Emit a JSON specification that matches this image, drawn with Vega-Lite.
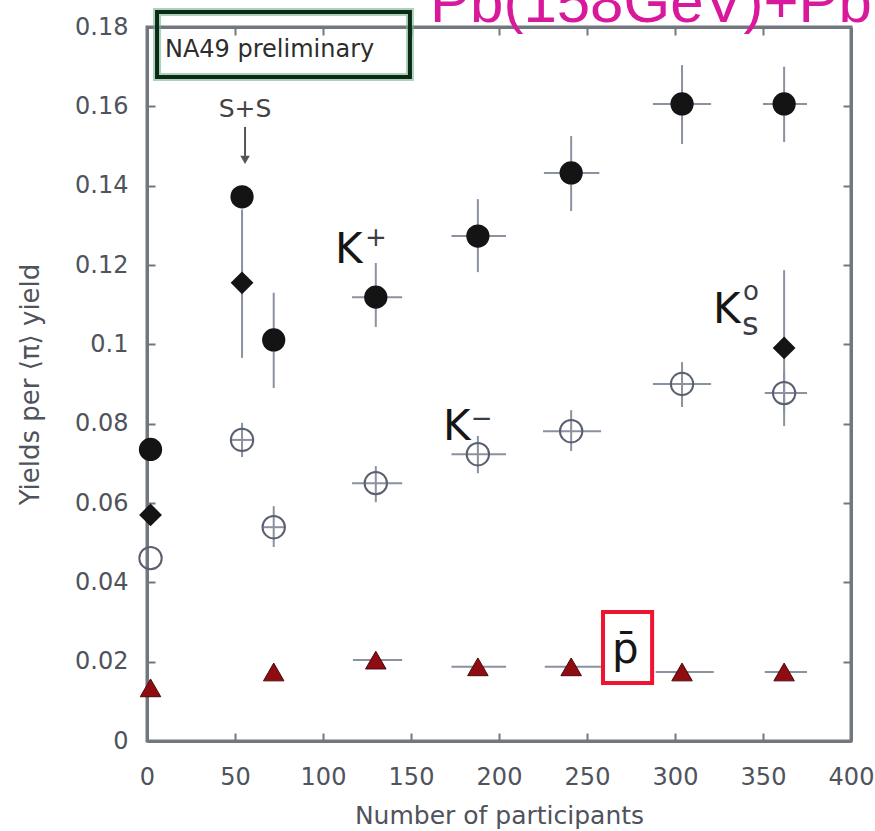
{
  "$schema": "https://vega.github.io/schema/vega-lite/v6.json",
  "width": 704,
  "height": 714,
  "autosize": {"type": "none"},
  "padding": {"left": 147, "top": 27, "right": 24, "bottom": 90},
  "background": "white",
  "config": {
    "view": {"stroke": "#72767f", "strokeWidth": 3},
    "axis": {
      "domainColor": "#72767f",
      "domainWidth": 3,
      "tickColor": "#72767f",
      "tickWidth": 2,
      "tickSize": -8,
      "grid": false,
      "labelFlush": false,
      "labelFont": "DejaVu Sans",
      "labelFontSize": 24,
      "labelColor": "#4f535b",
      "titleFont": "DejaVu Sans",
      "titleFontWeight": "normal",
      "titleColor": "#4f535b"
    }
  },
  "datasets": {
    "points": [
      {"series": "K+", "n": 2, "y": 0.0735, "ylo": null, "yhi": null, "nlo": null, "nhi": null},
      {"series": "K+", "n": 54, "y": 0.1372, "ylo": 0.1345, "yhi": 0.14, "nlo": null, "nhi": null},
      {"series": "K+", "n": 72, "y": 0.1011, "ylo": 0.089, "yhi": 0.113, "nlo": null, "nhi": null},
      {"series": "K+", "n": 130, "y": 0.1119, "ylo": 0.1044, "yhi": 0.1205, "nlo": 116.5, "nhi": 145},
      {"series": "K+", "n": 188, "y": 0.1273, "ylo": 0.1182, "yhi": 0.1366, "nlo": 173, "nhi": 204},
      {"series": "K+", "n": 241, "y": 0.1432, "ylo": 0.1336, "yhi": 0.1525, "nlo": 225.5, "nhi": 257},
      {"series": "K+", "n": 304, "y": 0.1606, "ylo": 0.1505, "yhi": 0.1704, "nlo": 287.5, "nhi": 320.5},
      {"series": "K+", "n": 362, "y": 0.1606, "ylo": 0.151, "yhi": 0.17, "nlo": 350, "nhi": 375},
      {"series": "K0s", "n": 2, "y": 0.057, "ylo": null, "yhi": null, "nlo": null, "nhi": null},
      {"series": "K0s", "n": 54, "y": 0.1155, "ylo": 0.0966, "yhi": 0.134, "nlo": null, "nhi": null},
      {"series": "K0s", "n": 362, "y": 0.0991, "ylo": 0.0794, "yhi": 0.1187, "nlo": null, "nhi": null},
      {"series": "K-", "n": 2, "y": 0.0461, "ylo": null, "yhi": null, "nlo": null, "nhi": null},
      {"series": "K-", "n": 54, "y": 0.0759, "ylo": 0.0716, "yhi": 0.0802, "nlo": 48, "nhi": 60},
      {"series": "K-", "n": 72, "y": 0.0539, "ylo": 0.0489, "yhi": 0.0592, "nlo": 66, "nhi": 78},
      {"series": "K-", "n": 130, "y": 0.065, "ylo": 0.0602, "yhi": 0.0693, "nlo": 116.5, "nhi": 145},
      {"series": "K-", "n": 188, "y": 0.0723, "ylo": 0.0675, "yhi": 0.0769, "nlo": 173, "nhi": 204},
      {"series": "K-", "n": 241, "y": 0.0781, "ylo": 0.0731, "yhi": 0.0834, "nlo": 225, "nhi": 258},
      {"series": "K-", "n": 304, "y": 0.09, "ylo": 0.0842, "yhi": 0.0955, "nlo": 287.5, "nhi": 320.5},
      {"series": "K-", "n": 362, "y": 0.0877, "ylo": 0.083, "yhi": 0.093, "nlo": 351, "nhi": 375},
      {"series": "pbar", "n": 2, "y": 0.0134, "ylo": 0.0124, "yhi": 0.0144, "nlo": null, "nhi": null},
      {"series": "pbar", "n": 72, "y": 0.0174, "ylo": 0.0164, "yhi": 0.0184, "nlo": null, "nhi": null},
      {"series": "pbar", "n": 130, "y": 0.0204, "ylo": 0.019, "yhi": 0.0218, "nlo": 117, "nhi": 145},
      {"series": "pbar", "n": 188, "y": 0.0187, "ylo": 0.0176, "yhi": 0.0198, "nlo": 173, "nhi": 204},
      {"series": "pbar", "n": 241, "y": 0.0187, "ylo": 0.0176, "yhi": 0.0198, "nlo": 226, "nhi": 258},
      {"series": "pbar", "n": 304, "y": 0.0174, "ylo": 0.0164, "yhi": 0.0184, "nlo": 289, "nhi": 322},
      {"series": "pbar", "n": 362, "y": 0.0174, "ylo": 0.0164, "yhi": 0.0184, "nlo": 351, "nhi": 375}
    ],
    "boxes": [
      {"name": "NA49", "n": 5.7, "n2": 149.4, "y": 0.1838, "y2": 0.1674},
      {"name": "pbar", "n": 259.1, "n2": 287, "y": 0.0325, "y2": 0.0146}
    ],
    "arrow": [
      {"part": "shaft", "n": 55.7, "y": 0.1548, "y2": 0.1475},
      {"part": "head", "n": 55.7, "y": 0.1465}
    ],
    "labels": [
      {"role": "species", "text": "K", "n": 106.8, "y": 0.1205},
      {"role": "species", "text": "K", "n": 168.2, "y": 0.0759},
      {"role": "species", "text": "K", "n": 321.6, "y": 0.1054},
      {"role": "species", "text": "p̄", "n": 264.2, "y": 0.0197},
      {"role": "sup", "text": "+", "n": 123.9, "y": 0.1248},
      {"role": "sup", "text": "−", "n": 184, "y": 0.0792},
      {"role": "sup", "text": "o", "n": 338.6, "y": 0.1112},
      {"role": "sub", "text": "s", "n": 338, "y": 0.1024},
      {"role": "note", "text": "NA49 preliminary", "n": 10.2, "y": 0.1724},
      {"role": "system", "text": "S+S", "n": 55.7, "y": 0.1573},
      {"role": "title", "text": "Pb(158GeV)+Pb", "n": 160.8, "y": 0.1813}
    ]
  },
  "resolve": {"axis": {"x": "independent", "y": "independent"}},
  "layer": [
    {
      "data": {"name": "points"},
      "transform": [{"filter": "isValid(datum.ylo)"}],
      "mark": {"type": "rule", "color": "#8a91a0", "strokeWidth": 2},
      "encoding": {
        "x": {
          "field": "n", "type": "quantitative",
          "scale": {"domain": [0, 400], "nice": false, "zero": false},
          "axis": {"orient": "bottom", "values": [0, 50, 100, 150, 200, 250, 300, 350, 400], "title": "Number of participants", "titleFontSize": 25, "labelPadding": 32, "titlePadding": 14}
        },
        "y": {
          "field": "ylo", "type": "quantitative",
          "scale": {"domain": [0, 0.18], "nice": false, "zero": false},
          "axis": {"orient": "left", "values": [0, 0.02, 0.04, 0.06, 0.08, 0.1, 0.12, 0.14, 0.16, 0.18], "format": ".2~f", "title": "Yields per ⟨π⟩ yield", "titleFontSize": 26, "labelPadding": 27, "titlePadding": 31}
        },
        "y2": {"field": "yhi"}
      }
    },
    {
      "data": {"name": "points"},
      "transform": [{"filter": "isValid(datum.nlo)"}],
      "mark": {"type": "rule", "color": "#8a91a0", "strokeWidth": 2},
      "encoding": {
        "x": {"field": "nlo", "type": "quantitative", "axis": {"orient": "top", "values": [50, 100, 150, 200, 250, 300, 350], "labels": false, "title": null}},
        "x2": {"field": "nhi"},
        "y": {"field": "y", "type": "quantitative", "axis": {"orient": "right", "values": [0.02, 0.04, 0.06, 0.08, 0.1, 0.12, 0.14, 0.16], "labels": false, "title": null}}
      }
    },
    {
      "data": {"name": "points"},
      "transform": [{"filter": "datum.series === 'K+'"}],
      "mark": {"type": "point", "shape": "circle", "filled": true, "size": 540, "color": "#141414", "opacity": 1},
      "encoding": {
        "x": {"field": "n", "type": "quantitative", "axis": null},
        "y": {"field": "y", "type": "quantitative", "axis": null}
      }
    },
    {
      "data": {"name": "points"},
      "transform": [{"filter": "datum.series === 'K0s'"}],
      "mark": {"type": "point", "shape": "diamond", "filled": true, "size": 520, "color": "#141414", "opacity": 1},
      "encoding": {
        "x": {"field": "n", "type": "quantitative", "axis": null},
        "y": {"field": "y", "type": "quantitative", "axis": null}
      }
    },
    {
      "data": {"name": "points"},
      "transform": [{"filter": "datum.series === 'K-'"}],
      "mark": {"type": "point", "shape": "circle", "filled": false, "size": 500, "stroke": "#5b6070", "strokeWidth": 2, "opacity": 1},
      "encoding": {
        "x": {"field": "n", "type": "quantitative", "axis": null},
        "y": {"field": "y", "type": "quantitative", "axis": null}
      }
    },
    {
      "data": {"name": "points"},
      "transform": [{"filter": "datum.series === 'pbar'"}],
      "mark": {"type": "point", "shape": "triangle-up", "filled": true, "size": 420, "fill": "#8e0c12", "stroke": "#4a0a0a", "strokeWidth": 1, "opacity": 1},
      "encoding": {
        "x": {"field": "n", "type": "quantitative", "axis": null},
        "y": {"field": "y", "type": "quantitative", "axis": null}
      }
    },
    {
      "data": {"name": "boxes"},
      "transform": [{"filter": "datum.name === 'NA49'"}],
      "mark": {"type": "rect", "fill": null, "stroke": "#6fb88a", "strokeWidth": 8, "strokeOpacity": 0.6},
      "encoding": {
        "x": {"field": "n", "type": "quantitative", "axis": null},
        "x2": {"field": "n2"},
        "y": {"field": "y", "type": "quantitative", "axis": null},
        "y2": {"field": "y2"}
      }
    },
    {
      "data": {"name": "boxes"},
      "transform": [{"filter": "datum.name === 'NA49'"}],
      "mark": {"type": "rect", "fill": null, "stroke": "#0d2a18", "strokeWidth": 4},
      "encoding": {
        "x": {"field": "n", "type": "quantitative", "axis": null},
        "x2": {"field": "n2"},
        "y": {"field": "y", "type": "quantitative", "axis": null},
        "y2": {"field": "y2"}
      }
    },
    {
      "data": {"name": "boxes"},
      "transform": [{"filter": "datum.name === 'pbar'"}],
      "mark": {"type": "rect", "fill": "white", "stroke": "#ee1530", "strokeWidth": 4},
      "encoding": {
        "x": {"field": "n", "type": "quantitative", "axis": null},
        "x2": {"field": "n2"},
        "y": {"field": "y", "type": "quantitative", "axis": null},
        "y2": {"field": "y2"}
      }
    },
    {
      "data": {"name": "arrow"},
      "transform": [{"filter": "datum.part === 'shaft'"}],
      "mark": {"type": "rule", "color": "#555555", "strokeWidth": 2},
      "encoding": {
        "x": {"field": "n", "type": "quantitative", "axis": null},
        "y": {"field": "y", "type": "quantitative", "axis": null},
        "y2": {"field": "y2"}
      }
    },
    {
      "data": {"name": "arrow"},
      "transform": [{"filter": "datum.part === 'head'"}],
      "mark": {"type": "point", "shape": "triangle-down", "filled": true, "size": 90, "color": "#555555", "opacity": 1},
      "encoding": {
        "x": {"field": "n", "type": "quantitative", "axis": null},
        "y": {"field": "y", "type": "quantitative", "axis": null}
      }
    },
    {
      "data": {"name": "labels"},
      "transform": [{"filter": "datum.role === 'species'"}],
      "mark": {"type": "text", "font": "DejaVu Sans", "fontSize": 42, "align": "left", "baseline": "alphabetic", "color": "#161616"},
      "encoding": {
        "x": {"field": "n", "type": "quantitative", "axis": null},
        "y": {"field": "y", "type": "quantitative", "axis": null},
        "text": {"field": "text"}
      }
    },
    {
      "data": {"name": "labels"},
      "transform": [{"filter": "datum.role === 'sup'"}],
      "mark": {"type": "text", "font": "DejaVu Sans", "fontSize": 26, "align": "left", "baseline": "alphabetic", "color": "#3a3d44"},
      "encoding": {
        "x": {"field": "n", "type": "quantitative", "axis": null},
        "y": {"field": "y", "type": "quantitative", "axis": null},
        "text": {"field": "text"}
      }
    },
    {
      "data": {"name": "labels"},
      "transform": [{"filter": "datum.role === 'sub'"}],
      "mark": {"type": "text", "font": "DejaVu Sans", "fontSize": 32, "align": "left", "baseline": "alphabetic", "color": "#3a3d44"},
      "encoding": {
        "x": {"field": "n", "type": "quantitative", "axis": null},
        "y": {"field": "y", "type": "quantitative", "axis": null},
        "text": {"field": "text"}
      }
    },
    {
      "data": {"name": "labels"},
      "transform": [{"filter": "datum.role === 'note'"}],
      "mark": {"type": "text", "font": "DejaVu Sans", "fontSize": 24, "align": "left", "baseline": "alphabetic", "color": "#2d2d2d"},
      "encoding": {
        "x": {"field": "n", "type": "quantitative", "axis": null},
        "y": {"field": "y", "type": "quantitative", "axis": null},
        "text": {"field": "text"}
      }
    },
    {
      "data": {"name": "labels"},
      "transform": [{"filter": "datum.role === 'system'"}],
      "mark": {"type": "text", "font": "DejaVu Sans", "fontSize": 25, "align": "center", "baseline": "alphabetic", "color": "#444444"},
      "encoding": {
        "x": {"field": "n", "type": "quantitative", "axis": null},
        "y": {"field": "y", "type": "quantitative", "axis": null},
        "text": {"field": "text"}
      }
    },
    {
      "data": {"name": "labels"},
      "transform": [{"filter": "datum.role === 'title'"}],
      "mark": {"type": "text", "font": "Liberation Sans", "fontSize": 60, "align": "left", "baseline": "alphabetic", "color": "#d8199b"},
      "encoding": {
        "x": {"field": "n", "type": "quantitative", "axis": null},
        "y": {"field": "y", "type": "quantitative", "axis": null},
        "text": {"field": "text"}
      }
    }
  ]
}
